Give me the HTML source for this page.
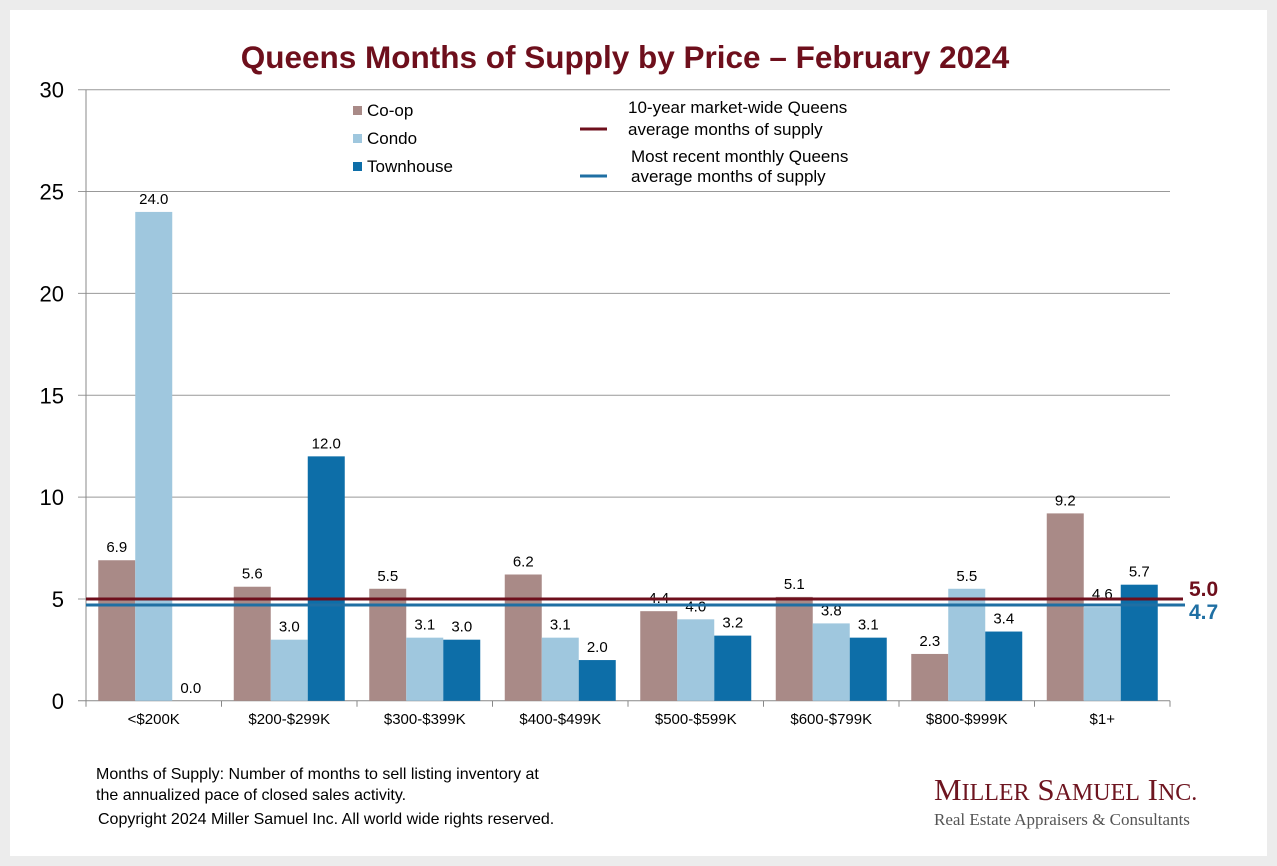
<!DOCTYPE html>
<html><head><meta charset="utf-8"><style>
body{margin:0;width:1277px;height:866px;background:#ececec;font-family:"Liberation Sans",Arial,sans-serif;overflow:hidden}
#card{position:absolute;left:10px;top:10px;width:1257px;height:846px;background:#fff}
</style></head><body>
<div id="card"></div>
<svg id="chart" width="1277" height="866" style="position:absolute;left:0;top:0"></svg>
<script>
const categories=["<$200K","$200-$299K","$300-$399K","$400-$499K","$500-$599K","$600-$799K","$800-$999K","$1+"];
const coop=[6.9,5.6,5.5,6.2,4.4,5.1,2.3,9.2];
const condo=[24.0,3.0,3.1,3.1,4.0,3.8,5.5,4.6];
const townhouse=[0.0,12.0,3.0,2.0,3.2,3.1,3.4,5.7];
const yTicks=[0,5,10,15,20,25,30];
const avg10yr=5.0, recent=4.7;
const ns="http://www.w3.org/2000/svg";
const svg=document.getElementById('chart');
const X0=86,X1=1170,Y0=700.8,Y30=89.7;
const y=v=>Y0-(v/30)*(Y0-Y30);
const cw=(X1-X0)/categories.length, bw=37;
function el(t,a,txt){const e=document.createElementNS(ns,t);for(const k in a)e.setAttribute(k,a[k]);if(txt!==undefined)e.textContent=txt;svg.appendChild(e);return e;}
yTicks.forEach(t=>{
 const g=el('line',{x1:X0-8,x2:X1,y1:y(t),y2:y(t),stroke:t===0?'#888':'#999','stroke-width':1});
 
 const l=el('text',{x:64,y:y(t)+8,'text-anchor':'end','font-size':22,fill:'#000'},t);
 
});
const ax=el('line',{x1:X0,x2:X0,y1:Y30,y2:Y0,stroke:'#888'});

for(let i=0;i<=categories.length;i++){const t=el('line',{x1:X0+i*cw,x2:X0+i*cw,y1:Y0,y2:Y0+6,stroke:'#888'});}
const series=[[coop,'#a98a87','coop'],[condo,'#9fc7de','condo'],[townhouse,'#0d6ea8','townhouse']];
categories.forEach((c,i)=>{
 const cx=X0+cw*i+cw/2;
 series.forEach(([arr,col,nm],j)=>{
  const v=arr[i], bx=cx-1.5*bw+j*bw;
  const r=el('rect',{x:bx,y:y(v),width:bw,height:Y0-y(v),fill:col});
  
  const t=el('text',{x:bx+bw/2,y:y(v)-8,'text-anchor':'middle','font-size':15,fill:'#000'},v.toFixed(1));
  
 });
 const l=el('text',{x:cx,y:724,'text-anchor':'middle','font-size':15,fill:'#000'},c);
 
});
const r1=el('line',{x1:X0,x2:1183,y1:y(avg10yr),y2:y(avg10yr),stroke:'#6e0f1c','stroke-width':3});

const r2=el('line',{x1:X0,x2:1185,y1:y(recent),y2:y(recent),stroke:'#1f6fa3','stroke-width':3});

const v1=el('text',{x:1189,y:y(avg10yr)-3,'font-size':21,'font-weight':'bold',fill:'#6e0f1c'},avg10yr.toFixed(1));

const v2=el('text',{x:1189,y:y(recent)+14,'font-size':21,'font-weight':'bold',fill:'#1f6fa3'},recent.toFixed(1));

const ti=el('text',{x:625,y:68,'text-anchor':'middle','font-size':31.5,'font-weight':'bold',fill:'#6e0f1c'},'Queens Months of Supply by Price – February 2024');

[['Co-op','#a98a87',111],['Condo','#9fc7de',139],['Townhouse','#0d6ea8',167]].forEach(([n,c,yy])=>{
 const s=el('rect',{x:353,y:yy-5,width:9,height:9,fill:c});
 const t=el('text',{x:367,y:yy+5,'font-size':17,fill:'#000'},n);
});
const ll1=el('line',{x1:580,x2:607,y1:129,y2:129,stroke:'#6e0f1c','stroke-width':3});
const ll2=el('line',{x1:580,x2:607,y1:176,y2:176,stroke:'#1f6fa3','stroke-width':3});
[['10-year market-wide Queens',628,113],['average months of supply',628,135],['Most recent monthly Queens',631,162],[' average months of supply',631,182]].forEach(([t,x,yy])=>{
 const e=el('text',{x:x,y:yy,'font-size':17,fill:'#000','xml:space':'preserve'},t);
});
[['Months of Supply: Number of months to sell listing inventory at',96,779],['the annualized pace of closed sales activity.',96,800],['Copyright 2024 Miller Samuel Inc.  All world wide rights reserved.',98,824]].forEach(([t,x,yy])=>{
 const e=el('text',{x:x,y:yy,'font-size':16,fill:'#000','xml:space':'preserve'},t);
});
const lg=el('text',{x:934,y:800,'font-size':31,fill:'#6e1520','font-family':'Liberation Serif,serif'},'');
lg.innerHTML='M<tspan font-size="24">ILLER</tspan> S<tspan font-size="24">AMUEL</tspan> I<tspan font-size="24">NC.</tspan>';

const tg=el('text',{x:934,y:825,'font-size':17,fill:'#555','font-family':'Liberation Serif,serif'},'Real Estate Appraisers & Consultants');

</script>
</body></html>
